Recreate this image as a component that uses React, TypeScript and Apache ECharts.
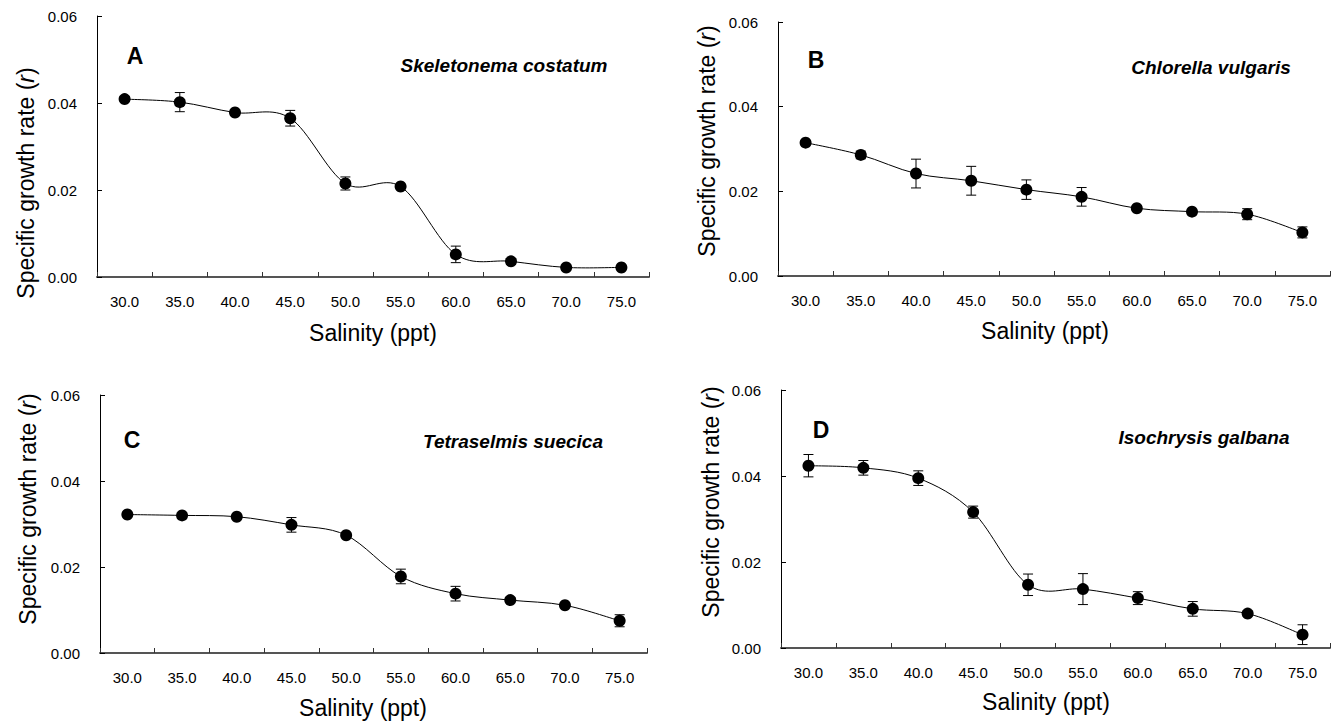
import React, { useEffect, useRef } from "react";
import * as echarts from "echarts";

const categories = ["30.0", "35.0", "40.0", "45.0", "50.0", "55.0", "60.0", "65.0", "70.0", "75.0"];
const yTicks = [0, 0.02, 0.04, 0.06];

const valuesA = [0.0409, 0.0402, 0.0378, 0.0365, 0.0215, 0.0208, 0.0052, 0.0036, 0.0022, 0.0022];
const errorsA = [0.0004, 0.0022, 0.0004, 0.0018, 0.0015, 0.0004, 0.0019, 0.0003, 0.0002, 0.0002];
const valuesB = [0.0315, 0.0286, 0.0242, 0.0225, 0.0204, 0.0187, 0.016, 0.0152, 0.0146, 0.0103];
const errorsB = [0.0005, 0.0009, 0.0034, 0.0034, 0.0023, 0.0022, 0.0005, 0.0004, 0.0013, 0.0013];
const valuesC = [0.0322, 0.032, 0.0317, 0.0298, 0.0274, 0.0178, 0.0138, 0.0123, 0.0111, 0.0075];
const errorsC = [0.0003, 0.0003, 0.0004, 0.0017, 0.0005, 0.0017, 0.0017, 0.0006, 0.0005, 0.0014];
const valuesD = [0.0424, 0.0419, 0.0395, 0.0316, 0.0147, 0.0137, 0.0116, 0.0091, 0.008, 0.0031];
const errorsD = [0.0026, 0.0017, 0.0017, 0.0014, 0.0025, 0.0036, 0.0015, 0.0017, 0.0005, 0.0023];

const panelLetters = ["A", "B", "C", "D"];
const speciesNames = ["Skeletonema costatum", "Chlorella vulgaris", "Tetraselmis suecica", "Isochrysis galbana"];
const xAxisTitle = "Salinity (ppt)";
const yAxisTitle = "Specific growth rate ({i|r})";

const FONT = "'Liberation Sans', Arial, Helvetica, sans-serif";

// layout (positions / sizes only)
const grids = [
  { left: 97, top: 16, width: 552, height: 261 },
  { left: 778, top: 22, width: 552, height: 254 },
  { left: 100, top: 395, width: 547, height: 258 },
  { left: 781, top: 390, width: 549, height: 258 },
];
const yTitlePos = [
  [26, 183],
  [707, 141],
  [28, 509],
  [711, 502],
];
const xTitlePos = [
  [373, 333],
  [1045, 331],
  [363, 708],
  [1046, 702],
];
const letterPos = [
  [135, 56],
  [816, 60],
  [132, 440],
  [821, 430],
];
const speciesPos = [
  [504, 65],
  [1211, 67],
  [513, 441],
  [1204, 437],
];

export default function App() {
  const ref = useRef<HTMLDivElement>(null);

  useEffect(() => {
    if (!ref.current) return;
    const chart = echarts.init(ref.current, undefined, { renderer: "svg" });
    const allValues = [valuesA, valuesB, valuesC, valuesD];
    const allErrors = [errorsA, errorsB, errorsC, errorsD];

    const xAxes = grids.map((_, i) => ({
      type: "category",
      gridIndex: i,
      data: categories,
      boundaryGap: true,
      axisLine: { show: true, lineStyle: { color: "#555", width: 2 } },
      axisTick: { show: true, inside: true, length: 5, alignWithLabel: false, lineStyle: { color: "#333", width: 1 } },
      axisLabel: { show: true, margin: 17, color: "#000", fontSize: 15, fontFamily: FONT },
      splitLine: { show: false },
    }));

    const yAxes = grids.map((_, i) => ({
      type: "value",
      gridIndex: i,
      min: yTicks[0],
      max: yTicks[yTicks.length - 1],
      interval: yTicks[1] - yTicks[0],
      axisLine: { show: true, lineStyle: { color: "#000", width: 1 } },
      axisTick: { show: true, inside: true, length: 5, lineStyle: { color: "#000", width: 1 } },
      axisLabel: {
        show: true,
        margin: 20,
        color: "#000",
        fontSize: 15,
        fontFamily: FONT,
        formatter: (v: number) => v.toFixed(2),
      },
      splitLine: { show: false },
    }));

    const series: any[] = [];
    allValues.forEach((vals, i) => {
      const errs = allErrors[i];
      const n = vals.length;
      // smooth curve (Catmull-Rom through the data points, in pixel space)
      series.push({
        type: "custom",
        xAxisIndex: i,
        yAxisIndex: i,
        z: 2,
        silent: true,
        data: vals.map((v, k) => [k, v]),
        encode: { x: 0, y: 1 },
        renderItem: (params: any, api: any) => {
          const k = params.dataIndex;
          if (k >= n - 1) return null;
          const pt = (j: number) => {
            const jj = Math.max(0, Math.min(n - 1, j));
            return api.coord([jj, vals[jj]]);
          };
          const p0 = pt(k - 1);
          const p1 = pt(k);
          const p2 = pt(k + 1);
          const p3 = pt(k + 2);
          const t = 1 / 6;
          return {
            type: "bezierCurve",
            shape: {
              x1: p1[0],
              y1: p1[1],
              x2: p2[0],
              y2: p2[1],
              cpx1: p1[0] + (p2[0] - p0[0]) * t,
              cpy1: p1[1] + (p2[1] - p0[1]) * t,
              cpx2: p2[0] - (p3[0] - p1[0]) * t,
              cpy2: p2[1] - (p3[1] - p1[1]) * t,
            },
            style: { stroke: "#000", lineWidth: 1, fill: "none" },
          };
        },
      });
      // error bars
      series.push({
        type: "custom",
        xAxisIndex: i,
        yAxisIndex: i,
        z: 3,
        silent: true,
        data: vals.map((v, k) => [k, v, errs[k]]),
        encode: { x: 0, y: 1 },
        renderItem: (params: any, api: any) => {
          const x = api.value(0);
          const y = api.value(1);
          const e = api.value(2);
          const top = api.coord([x, y + e]);
          const bot = api.coord([x, y - e]);
          const hw = 5;
          const st = { stroke: "#000", lineWidth: 1 };
          return {
            type: "group",
            children: [
              { type: "line", shape: { x1: top[0], y1: top[1], x2: bot[0], y2: bot[1] }, style: st },
              { type: "line", shape: { x1: top[0] - hw, y1: top[1], x2: top[0] + hw, y2: top[1] }, style: st },
              { type: "line", shape: { x1: bot[0] - hw, y1: bot[1], x2: bot[0] + hw, y2: bot[1] }, style: st },
            ],
          };
        },
      });
      // markers
      series.push({
        type: "scatter",
        xAxisIndex: i,
        yAxisIndex: i,
        z: 4,
        data: vals,
        symbol: "circle",
        symbolSize: 12,
        itemStyle: { color: "#000", borderWidth: 0, opacity: 1 },
        silent: true,
      });
    });

    const graphic: any[] = [];
    grids.forEach((_, i) => {
      graphic.push({
        type: "text",
        x: yTitlePos[i][0],
        y: yTitlePos[i][1],
        rotation: Math.PI / 2,
        style: {
          text: yAxisTitle,
          fontSize: 23,
          fontFamily: FONT,
          fill: "#000",
          align: "center",
          verticalAlign: "middle",
          textAlign: "center",
          textVerticalAlign: "middle",
          rich: {
            i: { fontStyle: "italic", fontSize: 23, fontFamily: FONT, fill: "#000" },
          },
        },
      });
      graphic.push({
        type: "text",
        x: xTitlePos[i][0],
        y: xTitlePos[i][1],
        style: {
          text: xAxisTitle,
          fontSize: 23,
          fontFamily: FONT,
          fill: "#000",
          align: "center",
          verticalAlign: "middle",
          textAlign: "center",
          textVerticalAlign: "middle",
        },
      });
      graphic.push({
        type: "text",
        x: letterPos[i][0],
        y: letterPos[i][1],
        style: {
          text: panelLetters[i],
          fontSize: 23,
          fontWeight: "bold",
          fontFamily: FONT,
          fill: "#000",
          align: "center",
          verticalAlign: "middle",
          textAlign: "center",
          textVerticalAlign: "middle",
        },
      });
      graphic.push({
        type: "text",
        x: speciesPos[i][0],
        y: speciesPos[i][1],
        style: {
          text: speciesNames[i],
          fontSize: 19,
          fontWeight: "bold",
          fontStyle: "italic",
          fontFamily: FONT,
          fill: "#000",
          align: "center",
          verticalAlign: "middle",
          textAlign: "center",
          textVerticalAlign: "middle",
        },
      });
    });

    chart.setOption({
      animation: false,
      backgroundColor: "#fff",
      textStyle: { fontFamily: FONT },
      grid: grids.map((g) => ({ ...g, containLabel: false })),
      xAxis: xAxes,
      yAxis: yAxes,
      series,
      graphic,
    });

    return () => {
      chart.dispose();
    };
  }, []);

  return (
    <div
      ref={ref}
      style={{ position: "absolute", left: 0, top: 0, width: 1332, height: 722, background: "#fff" }}
    />
  );
}
